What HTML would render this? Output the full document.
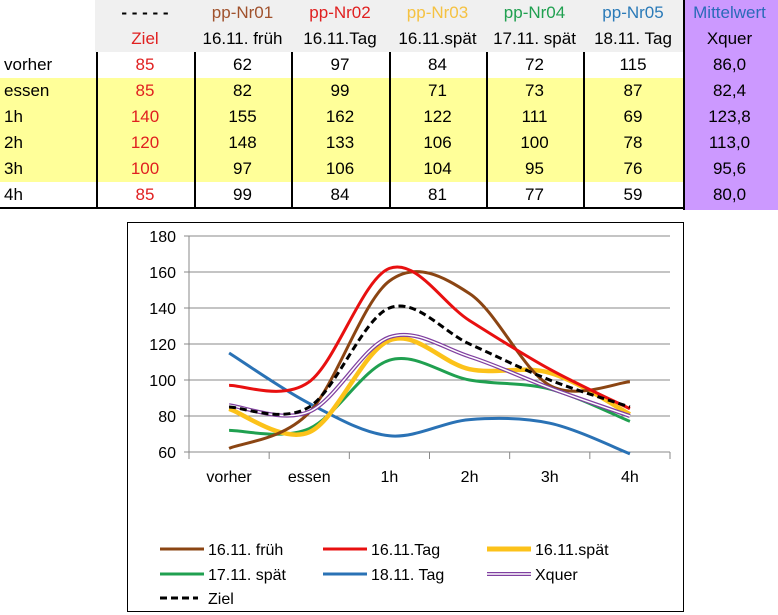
<!DOCTYPE html>
<html><head><meta charset="utf-8">
<style>
body{margin:0;width:778px;height:615px;background:#fff;font-family:"Liberation Sans",sans-serif;overflow:hidden;position:relative}
#tbl{position:absolute;left:0;top:0}
.c{position:absolute;text-align:center;font-size:17px;line-height:26px;font-family:"Liberation Sans",sans-serif;white-space:nowrap}
</style></head><body>
<div id="tbl"></div>
<svg id="chart" width="778" height="615" style="position:absolute;left:0;top:0"></svg>
<script>
const cats=["vorher","essen","1h","2h","3h","4h"];
const ziel=[85,85,140,120,100,85];
const s1=[62,82,155,148,97,99];
const s2=[97,99,162,133,106,84];
const s3=[84,71,122,106,104,81];
const s4=[72,73,111,100,95,77];
const s5=[115,87,69,78,76,59];
const xq=[86.0,82.4,123.8,113.0,95.6,80.0];
const yTicks=[60,80,100,120,140,160,180];
const heads=["pp-Nr01","pp-Nr02","pp-Nr03","pp-Nr04","pp-Nr05"];
const sub=["16.11. früh","16.11.Tag","16.11.spät","17.11. spät","18.11. Tag"];
const hcol=["#a0522d","#e02020","#f5c242","#20a050","#2a7ab8"];
const names=sub;
const T=document.getElementById('tbl');
function cell(x,y,w,h,txt,st,name){const d=document.createElement('div');d.className='c';d.style.cssText+=`left:${x}px;top:${y}px;width:${w}px;height:${h}px;`+(st||'');d.textContent=txt;


T.appendChild(d);return d;}
const colX=[0,96,194,291,389,486,583,683,776];
const rowY=[52,78,104,130,156,182,208];
cell(95,0,588,52,"","background:#f0f0f0;","header-background");
cell(0,78,683,104,"","background:#ffff99;","highlight-rows");
cell(683,0,93,210,"","background:#cc99ff;border-left:2px solid #000;","mean-column-background");
cell(96,0,98,26,"- - - - -","font-weight:bold;","ziel-legend-dash");
cell(96,26,98,26,"Ziel","color:#e02020;","ziel-header");
for(let i=0;i<5;i++){cell(colX[i+2],0,colX[i+3]-colX[i+2],26,heads[i],"color:"+hcol[i]+";","header-"+heads[i].toLowerCase());
cell(colX[i+2],26,colX[i+3]-colX[i+2],26,sub[i],"","subheader-"+(i+1));}
cell(683,0,93,26,"Mittelwert","color:#2a6ab8;","mean-header");
cell(683,26,93,26,"Xquer","","mean-subheader");
const all=[ziel,s1,s2,s3,s4,s5];
for(let r=0;r<6;r++){
 cell(0,rowY[r],96,26,cats[r],"text-align:left;padding-left:4px;","row-label-"+cats[r]);
 for(let c=0;c<6;c++){cell(colX[c+1],rowY[r],colX[c+2]-colX[c+1],26,String(all[c][r]),c==0?"color:#e02020;":"","cell-"+cats[r]+"-"+c);}
 cell(683,rowY[r],93,26,xq[r].toFixed(1).replace('.',','),"","mean-"+cats[r]);
}
for(let c=1;c<7;c++){cell(colX[c],52,1,156,"","background:#000;width:1.5px;","column-divider");}
cell(0,207,683,2,"","background:#000;","table-bottom-border");
const S=document.getElementById('chart');const NS="http://www.w3.org/2000/svg";
function el(t,a,name){const e=document.createElementNS(NS,t);for(const k in a)e.setAttribute(k,a[k]);


S.appendChild(e);return e;}
el('rect',{x:127.5,y:222.5,width:556,height:389,fill:'#fff',stroke:'#000','stroke-width':1},'chart-frame');
const L=189,R=670,Yt=236,Yb=452;
const xS=i=>L+(R-L)/cats.length*(i+0.5);
const yS=v=>Yb-(v-60)/120*(Yb-Yt);
yTicks.forEach(t=>{el('line',{x1:184,x2:R,y1:yS(t),y2:yS(t),stroke:'#888','stroke-width':1},'gridline-'+t);
const tx=el('text',{x:176,y:yS(t)+6,'text-anchor':'end','font-size':16,fill:'#000'},'y-tick-'+t);tx.textContent=t;});
el('line',{x1:L,x2:L,y1:Yt,y2:Yb+7,stroke:'#888'},'y-axis');
for(let i=0;i<=cats.length;i++){const x=L+(R-L)/cats.length*i;el('line',{x1:x,x2:x,y1:Yb,y2:Yb+7,stroke:'#888'},'x-tick');}
cats.forEach((c,i)=>{const t=el('text',{x:xS(i),y:482,'text-anchor':'middle','font-size':16},'x-label-'+c);t.textContent=c;});
function path(vals){const p=vals.map((v,i)=>[xS(i),yS(v)]);let d=`M${p[0][0]},${p[0][1]}`;
for(let i=0;i<p.length-1;i++){const p0=p[i-1]||p[i],p1=p[i],p2=p[i+1],p3=p[i+2]||p2;const k=1/6;
d+=` C${p1[0]+(p2[0]-p0[0])*k},${p1[1]+(p2[1]-p0[1])*k} ${p2[0]-(p3[0]-p1[0])*k},${p2[1]-(p3[1]-p1[1])*k} ${p2[0]},${p2[1]}`;}return d;}
const series=[[s5,'#2a72b5',3,null,'series-18-11-tag'],[s4,'#20a050',3,null,'series-17-11-spaet'],[s3,'#fcc21a',4.5,null,'series-16-11-spaet'],[s1,'#8b4513',3,null,'series-16-11-frueh'],[s2,'#e81010',3,null,'series-16-11-tag']];
series.forEach(s=>el('path',{d:path(s[0]),fill:'none',stroke:s[1],'stroke-width':s[2]},s[4]));
el('path',{d:path(xq),fill:'none',stroke:'#8040a0','stroke-width':4},'series-xquer');
el('path',{d:path(xq),fill:'none',stroke:'#fff','stroke-width':1.5},'series-xquer-inner');
el('path',{d:path(ziel),fill:'none',stroke:'#000','stroke-width':3,'stroke-dasharray':'7,4'},'series-ziel');
const leg=[[160,549,'#8b4513',3,names[0]],[323,549,'#e81010',3,names[1]],[487,549,'#fcc21a',5,names[2]],[160,574,'#20a050',3,names[3]],[323,574,'#2a72b5',3,names[4]]];
leg.forEach((g,i)=>{el('line',{x1:g[0],x2:g[0]+44,y1:g[1],y2:g[1],stroke:g[2],'stroke-width':g[3]},'legend-line-'+i);
const t=el('text',{x:g[0]+48,y:g[1]+6,'font-size':16},'legend-entry-'+i);t.textContent=g[4];});
el('line',{x1:487,x2:531,y1:574,y2:574,stroke:'#8040a0','stroke-width':4},'legend-line-xquer');
el('line',{x1:487,x2:531,y1:574,y2:574,stroke:'#fff','stroke-width':1.5},'legend-line-xquer-inner');
let t=el('text',{x:535,y:580,'font-size':16},'legend-entry-xquer');t.textContent='Xquer';
el('line',{x1:160,x2:198,y1:598,y2:598,stroke:'#000','stroke-width':3,'stroke-dasharray':'7,4'},'legend-line-ziel');
t=el('text',{x:208,y:604,'font-size':16},'legend-entry-ziel');t.textContent='Ziel';
</script>
</body></html>
